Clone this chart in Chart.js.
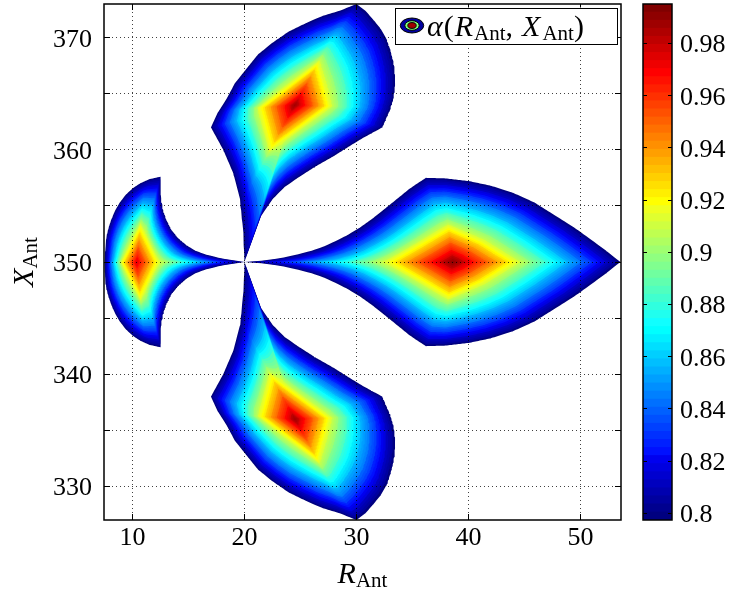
<!DOCTYPE html>
<html>
<head>
<meta charset="utf-8">
<script src="https://cdn.jsdelivr.net/npm/chart.js@4.4.0/dist/chart.umd.min.js"></script>
<style>
  body { margin: 0; background: #fff; }
  #wrap { position: relative; width: 734px; height: 595px; }
  #main { position: absolute; left: 0; top: 0; }
  #cbar { position: absolute; left: 630px; top: 0; }
</style>
</head>
<body>
<div id="wrap">
  <canvas id="main" width="734" height="595"></canvas>
  <canvas id="cbar" width="104" height="595"></canvas>
</div>
<script>
const SERIF = "'Liberation Serif', 'DejaVu Serif', serif";

// axes
const rAntLimits = [7.45, 53.62];
const xAntLimits = [327, 373];
const rAntTicks = [10, 20, 30, 40, 50];
const rAntTickLabels = ['10', '20', '30', '40', '50'];
const xAntTicks = [330, 335, 340, 345, 350, 355, 360, 365, 370];
const xAntTickLabels = ['330', '', '340', '', '350', '', '360', '', '370'];

// colour axis
const colorLimits = [0.7974, 0.9951];
const colorTicks = [0.8, 0.82, 0.84, 0.86, 0.88, 0.9, 0.92, 0.94, 0.96, 0.98];
const colorTickLabels = ['0.8', '0.82', '0.84', '0.86', '0.88', '0.9', '0.92', '0.94', '0.96', '0.98'];

// filled contour levels
const contourLevels = [0.800, 0.804, 0.808, 0.812, 0.816, 0.820, 0.824, 0.828, 0.832, 0.836,
  0.840, 0.844, 0.848, 0.852, 0.856, 0.860, 0.864, 0.868, 0.872, 0.876,
  0.880, 0.884, 0.888, 0.892, 0.896, 0.900, 0.904, 0.908, 0.912, 0.916,
  0.920, 0.924, 0.928, 0.932, 0.936, 0.940, 0.944, 0.948, 0.952, 0.956,
  0.960, 0.964, 0.968, 0.972, 0.976, 0.980, 0.984, 0.988, 0.992, 0.996];

// each lobe: outline at alpha = edgeLevel, the alpha = midLevel contour and the maximum
const edgeLevel = 0.8;
const midLevel = 0.916;

const rightEdge = [[20, 350], [21.5, 350.12], [22.5, 350.25], [23.5, 350.4], [24.8, 350.7], [26, 351.0],
  [27, 351.35], [28, 351.8], [29.1, 352.35], [30.2, 353.0], [31.4, 353.85], [32.6, 354.8],
  [33.65, 355.65], [34.7, 356.5], [35.5, 357.05], [36.2, 357.5], [38, 357.45], [40.1, 357.2],
  [42, 356.8], [43.9, 356.2], [45.9, 355.3], [47.8, 354.1], [49.4, 353.1], [50.8, 352.1],
  [52.3, 351.0], [53.57, 350],
  [52.3, 349.0], [50.8, 347.9], [49.4, 346.9], [47.8, 345.9], [45.9, 344.7], [43.9, 343.8],
  [42, 343.2], [40.1, 342.8], [38, 342.55], [36.2, 342.5], [35.5, 342.95], [34.7, 343.5],
  [33.65, 344.35], [32.6, 345.2], [31.4, 346.15], [30.2, 347.0], [29.1, 347.65], [28, 348.2],
  [27, 348.65], [26, 349.0], [24.8, 349.3], [23.5, 349.6], [22.5, 349.75], [21.5, 349.88]];
const rightMid = [[32.7, 350], [35.3, 351.5], [38.2, 353.2], [41.3, 351.85], [44.3, 350],
  [41.3, 348.15], [38.2, 346.8], [35.3, 348.5]];
const rightPeak = [38.6, 350];
const rightPeakValue = 0.995;

const upperEdge = [[20, 350], [20.3, 351.7], [21.07, 353.5], [22.5, 355.6], [23.6, 356.7], [24.9, 357.6],
  [26.4, 358.55], [27.9, 359.4], [29.1, 360.15], [30.3, 360.9], [31.3, 361.45], [32.3, 362.0],
  [33.0, 363.6], [33.3, 364.6], [33.44, 365.7], [33.44, 366.7], [33.3, 367.8], [33.05, 368.8],
  [32.7, 369.85], [32.15, 370.8], [31.5, 371.6], [30.8, 372.4], [30.0, 373.0], [28.5, 372.4],
  [27, 371.95], [25.5, 371.3], [23.95, 370.55], [22.5, 369.55], [21.2, 368.5], [20.15, 367.2],
  [19.15, 365.95], [18.37, 364.5], [17.6, 363.3], [17.0, 362.0], [18.1, 360.0], [19.0, 357.9],
  [19.6, 355.6], [19.9, 352.6]];
const upperMid = [[21.3, 363.75], [26.6, 367.8], [27.65, 363.9], [22.3, 360.0]];
const upperPeak = [24.5, 364];
const upperPeakValue = 0.99;

const lowerEdge = [[20, 350], [20.3, 348.3], [21.07, 346.5], [22.5, 344.4], [23.6, 343.3], [24.9, 342.4],
  [26.4, 341.45], [27.9, 340.6], [29.1, 339.85], [30.3, 339.1], [31.3, 338.55], [32.3, 338.0],
  [33.0, 336.4], [33.3, 335.4], [33.44, 334.3], [33.44, 333.3], [33.3, 332.2], [33.05, 331.2],
  [32.7, 330.15], [32.15, 329.2], [31.5, 328.4], [30.8, 327.6], [30.0, 327.0], [28.5, 327.6],
  [27, 328.05], [25.5, 328.7], [23.95, 329.45], [22.5, 330.45], [21.2, 331.5], [20.15, 332.8],
  [19.15, 334.05], [18.37, 335.5], [17.6, 336.7], [17.0, 338.0], [18.1, 340.0], [19.0, 342.1],
  [19.6, 344.4], [19.9, 347.4]];
const lowerMid = [[21.3, 336.25], [26.6, 332.2], [27.65, 336.1], [22.3, 340.0]];
const lowerPeak = [24.5, 336];
const lowerPeakValue = 0.99;

const leftEdge = [[20, 350], [19.0, 350.15], [17.8, 350.35], [16.6, 350.65], [15.6, 351.0], [14.8, 351.5],
  [14.05, 352.15], [13.45, 352.9], [13.0, 353.8], [12.7, 354.7], [12.55, 355.6], [12.5, 356.4],
  [12.5, 357.6], [11.55, 357.4], [10.75, 357.05], [10.05, 356.6], [9.4, 356.0], [8.86, 355.3],
  [8.45, 354.6], [8.1, 353.8], [7.85, 353.05], [7.66, 352.3], [7.55, 351.2], [7.5, 350],
  [7.55, 348.8], [7.66, 347.7], [7.85, 346.95], [8.1, 346.2], [8.45, 345.4], [8.86, 344.7],
  [9.4, 344.0], [10.05, 343.4], [10.75, 342.95], [11.55, 342.6], [12.5, 342.4], [12.5, 343.6],
  [12.55, 344.4], [12.7, 345.3], [13.0, 346.2], [13.45, 347.1], [14.05, 347.85], [14.8, 348.5],
  [15.6, 349.0], [16.6, 349.35], [17.8, 349.65], [19.0, 349.85]];
const leftMid = [[9.0, 350], [10.7, 353.3], [12.3, 350], [10.7, 346.7]];
const leftPeak = [10.36, 350];
const leftPeakValue = 0.978;

const lobes = [
  { edge: rightEdge, mid: rightMid, peak: rightPeak, top: rightPeakValue },
  { edge: upperEdge, mid: upperMid, peak: upperPeak, top: upperPeakValue },
  { edge: lowerEdge, mid: lowerMid, peak: lowerPeak, top: lowerPeakValue },
  { edge: leftEdge, mid: leftMid, peak: leftPeak, top: leftPeakValue }
];

// MATLAB jet(64)
function jet(i) {
  const j = i + 1;
  const r = j < 25 ? 0 : j <= 40 ? (j - 24) / 16 : j <= 56 ? 1 : (72 - j) / 16;
  const g = j < 9 ? 0 : j <= 24 ? (j - 8) / 16 : j <= 40 ? 1 : j <= 55 ? (56 - j) / 16 : 0;
  const b = j <= 9 ? (j + 7) / 16 : j <= 25 ? 1 : j <= 39 ? (41 - j) / 16 : 0;
  return `rgb(${Math.round(r * 255)},${Math.round(g * 255)},${Math.round(b * 255)})`;
}

function colorOf(level) {
  const t = (level - colorLimits[0]) / (colorLimits[1] - colorLimits[0]);
  return jet(Math.max(0, Math.min(63, Math.floor(t * 64))));
}

// distance from c along angle ang to the farthest crossing of poly
function rayHit(c, ang, poly) {
  const dx = Math.cos(ang), dy = Math.sin(ang);
  let best = 0;
  for (let i = 0; i < poly.length; i++) {
    const a = poly[i], b = poly[(i + 1) % poly.length];
    const ex = b[0] - a[0], ey = b[1] - a[1];
    const den = dx * ey - dy * ex;
    if (Math.abs(den) < 1e-12) continue;
    const ax = a[0] - c[0], ay = a[1] - c[1];
    const t = (ax * ey - ay * ex) / den;
    const u = (ax * dy - ay * dx) / den;
    if (t > 0 && u >= -1e-9 && u <= 1 + 1e-9 && t > best) best = t;
  }
  return best;
}

function sampleAngles(lobe) {
  const list = [];
  for (let i = 0; i < 360; i++) list.push(-Math.PI + i * Math.PI / 180);
  lobe.edge.concat(lobe.mid).forEach(p => {
    list.push(Math.atan2(p[1] - lobe.peak[1], p[0] - lobe.peak[0]));
  });
  list.sort((a, b) => a - b);
  return list.filter((a, i) => i === 0 || a - list[i - 1] > 1e-7);
}

// one closed outline per lobe and level, between the known contours
const bands = [];
lobes.forEach(lobe => {
  const angles = sampleAngles(lobe);
  const rEdge = angles.map(a => rayHit(lobe.peak, a, lobe.edge));
  const rMid = angles.map(a => rayHit(lobe.peak, a, lobe.mid));
  contourLevels.filter(l => l < lobe.top).forEach(level => {
    const pts = angles.map((a, i) => {
      const r = level <= midLevel
        ? rMid[i] + (rEdge[i] - rMid[i]) * (midLevel - level) / (midLevel - edgeLevel)
        : rMid[i] * (lobe.top - level) / (lobe.top - midLevel);
      return { x: lobe.peak[0] + r * Math.cos(a), y: lobe.peak[1] + r * Math.sin(a) };
    });
    bands.push({ level, pts });
  });
});
// highest level first so it is filled last (on top)
bands.sort((a, b) => b.level - a.level);

const fontOf = (size, italic) => `${italic ? 'italic ' : ''}${size}px ${SERIF}`;

function richText(ctx, parts, x, y, align) {
  const widths = parts.map(p => { ctx.font = fontOf(p.size, p.italic); return ctx.measureText(p.text).width + (p.gap || 0); });
  const total = widths.reduce((s, w) => s + w, 0);
  let cx = align === 'center' ? x - total / 2 : x;
  ctx.textAlign = 'left';
  ctx.textBaseline = 'alphabetic';
  ctx.fillStyle = '#000';
  parts.forEach((p, i) => {
    ctx.font = fontOf(p.size, p.italic);
    ctx.fillText(p.text, cx, y + (p.dy || 0));
    cx += widths[i];
  });
  return total;
}

const frame = {
  id: 'frame',
  afterDraw(chart) {
    const { ctx, chartArea: a, scales } = chart;
    const al = v => Math.round(v - 0.5) + 0.5;
    ctx.save();
    ctx.strokeStyle = '#000';
    ctx.lineWidth = 1;
    ctx.beginPath();
    rAntTicks.forEach(v => {
      const px = al(scales.x.getPixelForValue(v));
      ctx.moveTo(px, a.bottom); ctx.lineTo(px, a.bottom - 6);
      ctx.moveTo(px, a.top); ctx.lineTo(px, a.top + 6);
    });
    xAntTicks.forEach(v => {
      const py = al(scales.y.getPixelForValue(v));
      ctx.moveTo(a.left, py); ctx.lineTo(a.left + 6, py);
      ctx.moveTo(a.right, py); ctx.lineTo(a.right - 6, py);
    });
    ctx.stroke();
    ctx.lineWidth = 1.5;
    ctx.strokeRect(a.left, a.top, a.right - a.left, a.bottom - a.top);

    // tick labels
    ctx.fillStyle = '#000';
    ctx.font = fontOf(26, false);
    ctx.textBaseline = 'alphabetic';
    ctx.textAlign = 'center';
    rAntTicks.forEach((v, i) => ctx.fillText(rAntTickLabels[i], scales.x.getPixelForValue(v), a.bottom + 25));
    ctx.textAlign = 'right';
    xAntTicks.forEach((v, i) => ctx.fillText(xAntTickLabels[i], a.left - 12, scales.y.getPixelForValue(v) + 9));

    // axis titles
    richText(ctx, [{ text: 'R', size: 30, italic: true }, { text: 'Ant', size: 21, dy: 4 }],
      (a.left + a.right) / 2, 583, 'center');
    ctx.save();
    ctx.translate(33, (a.top + a.bottom) / 2);
    ctx.rotate(-Math.PI / 2);
    richText(ctx, [{ text: 'X', size: 30, italic: true }, { text: 'Ant', size: 21, dy: 4 }], 0, 0, 'center');
    ctx.restore();

    // legend
    const bx = a.right - 226, by = a.top + 3.5, bw = 222, bh = 36;
    ctx.fillStyle = '#fff';
    ctx.fillRect(bx, by, bw, bh);
    ctx.lineWidth = 1;
    ctx.strokeRect(Math.round(bx) + 0.5, Math.round(by) + 0.5, bw, bh);
    const cx = bx + 17, cy = by + 18;
    [[11.7, 7.5, '#00009f'], [7.2, 4.8, '#80ff80'], [4.2, 2.9, '#a00000']].forEach(([rx, ry, col]) => {
      ctx.beginPath();
      ctx.ellipse(cx, cy, rx, ry, 0, 0, Math.PI * 2);
      ctx.fillStyle = col;
      ctx.fill();
      ctx.strokeStyle = '#000';
      ctx.lineWidth = 1;
      ctx.stroke();
    });
    richText(ctx, [
      { text: 'α', size: 30, italic: true, gap: 1 },
      { text: '(', size: 30, gap: 1 },
      { text: 'R', size: 30, italic: true, gap: 1 },
      { text: 'Ant', size: 21, dy: 4 },
      { text: ',', size: 30, gap: 9 },
      { text: 'X', size: 30, italic: true, gap: 2 },
      { text: 'Ant', size: 21, dy: 4 },
      { text: ')', size: 30 }
    ], bx + 32, by + 28.5, 'left');
    ctx.restore();
  }
};

new Chart(document.getElementById('main'), {
  type: 'scatter',
  data: {
    datasets: bands.map(b => ({
      data: b.pts,
      showLine: true,
      fill: 'shape',
      backgroundColor: colorOf(b.level),
      borderColor: 'rgba(0,0,0,0)',
      borderWidth: 0,
      pointRadius: 0,
      tension: 0
    }))
  },
  options: {
    animation: false,
    responsive: false,
    events: [],
    layout: { padding: { left: 0, top: 4, right: 113, bottom: 0 } },
    plugins: {
      legend: { display: false },
      tooltip: { enabled: false },
      filler: { drawTime: 'beforeDraw' }
    },
    scales: {
      x: {
        type: 'linear',
        min: rAntLimits[0],
        max: rAntLimits[1],
        afterBuildTicks: s => { s.ticks = rAntTicks.map(v => ({ value: v })); },
        afterFit: s => { s.height = 75; s.paddingLeft = 0; s.paddingRight = 0; },
        ticks: { display: false },
        grid: { color: 'rgba(0,0,0,0.75)', drawTicks: false, borderDash: [1, 3] },
        border: { display: false, dash: [1, 3] }
      },
      y: {
        type: 'linear',
        min: xAntLimits[0],
        max: xAntLimits[1],
        afterBuildTicks: s => { s.ticks = xAntTicks.map(v => ({ value: v })); },
        afterFit: s => { s.width = 104; s.paddingTop = 0; s.paddingBottom = 0; },
        ticks: { display: false },
        grid: { color: 'rgba(0,0,0,0.75)', drawTicks: false, borderDash: [1, 3] },
        border: { display: false, dash: [1, 3] }
      }
    }
  },
  plugins: [frame]
});

// colour bar
const cbarFrame = {
  id: 'cbarFrame',
  afterDraw(chart) {
    const { ctx, chartArea: a, scales } = chart;
    ctx.save();
    ctx.strokeStyle = '#000';
    ctx.lineWidth = 1;
    ctx.beginPath();
    colorTicks.forEach(v => {
      const py = Math.round(scales.y.getPixelForValue(v) - 0.5) + 0.5;
      ctx.moveTo(a.left, py); ctx.lineTo(a.left + 4, py);
      ctx.moveTo(a.right, py); ctx.lineTo(a.right - 4, py);
    });
    ctx.stroke();
    ctx.lineWidth = 1.5;
    ctx.strokeRect(a.left, a.top, a.right - a.left, a.bottom - a.top);
    ctx.fillStyle = '#000';
    ctx.font = fontOf(26, false);
    ctx.textAlign = 'left';
    ctx.textBaseline = 'alphabetic';
    colorTicks.forEach((v, i) => ctx.fillText(colorTickLabels[i], a.right + 8, scales.y.getPixelForValue(v) + 9));
    ctx.restore();
  }
};

const cStep = (colorLimits[1] - colorLimits[0]) / 64;
new Chart(document.getElementById('cbar'), {
  type: 'bar',
  data: {
    labels: [''],
    datasets: Array.from({ length: 64 }, (_, k) => ({
      data: [[colorLimits[0] + k * cStep - (k ? 0.4 * cStep : 0), colorLimits[0] + (k + 1) * cStep]],
      backgroundColor: jet(k),
      borderWidth: 0,
      barPercentage: 1,
      categoryPercentage: 1,
      grouped: false
    }))
  },
  options: {
    animation: false,
    responsive: false,
    events: [],
    layout: { padding: { left: 13, top: 4, right: 0, bottom: 75 } },
    plugins: { legend: { display: false }, tooltip: { enabled: false } },
    scales: {
      x: { display: false },
      y: {
        position: 'right',
        min: colorLimits[0],
        max: colorLimits[1],
        afterBuildTicks: s => { s.ticks = colorTicks.map(v => ({ value: v })); },
        afterFit: s => { s.width = 62; s.paddingTop = 0; s.paddingBottom = 0; },
        ticks: { display: false },
        grid: { display: false },
        border: { display: false }
      }
    }
  },
  plugins: [cbarFrame]
});
</script>
</body>
</html>
